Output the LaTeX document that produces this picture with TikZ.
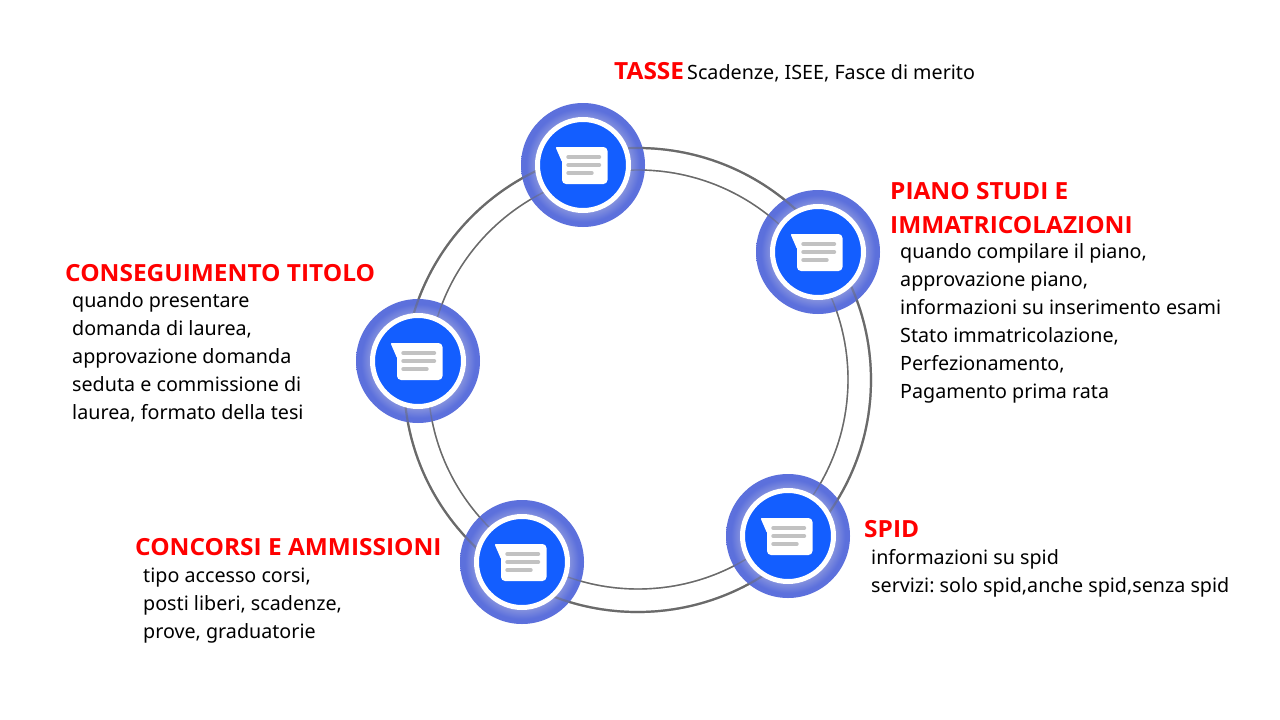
\documentclass[tikz,border=0pt]{standalone}
\usepackage{fontspec}
\setmainfont{Noto Sans}
\newfontfamily\headfont{Open Sans}[FakeStretch=1.035]
\frenchspacing
\definecolor{ringgray}{HTML}{6A6A6A}
\definecolor{bandblue}{HTML}{5C70DC}
\definecolor{bandlight}{HTML}{8592DE}
\definecolor{coreblue}{HTML}{135EFF}
\definecolor{iconbar}{HTML}{C2C2C2}
\pgfdeclareradialshading{bandshade}{\pgfpointorigin}{color(0bp)=(bandlight); color(19bp)=(bandlight); color(23bp)=(bandblue); color(50bp)=(bandblue)}
\tikzset{
  band/.style={circle,minimum size=124pt,inner sep=0pt,draw=none,shading=bandshade},
  whitering/.style={circle,minimum size=91pt,inner sep=0pt,fill=coreblue,draw=white,line width=5pt},
  outerring/.style={draw=ringgray,line width=2.2pt},
  innerring/.style={draw=ringgray,line width=1.4pt},
  headtext/.style={anchor=north west,inner sep=0pt,text=red,font=\headfont\fontsize{23.6}{34}\selectfont\bfseries,align=left},
  bodytext/.style={anchor=north west,inner sep=0pt,text=black,font=\fontsize{19.7}{28}\selectfont,align=left},
  inlinetext/.style={anchor=base west,inner sep=0pt,text=black,font=\fontsize{19.7}{28}\selectfont},
  bubble/.pic={
    \fill[white,rounded corners=4pt] (-21,-18) -- (24.5,-18) -- (24.5,19) -- (-21,19) -- (-21,-5) -- cycle;
    \fill[white,rounded corners=1pt] (-27.5,-18) -- (-15,-18) -- (-15,0) -- (-21,-3) -- cycle;
    \draw[iconbar,line width=3.4pt,line cap=round] (-15,-8) -- (16.5,-8);
    \draw[iconbar,line width=3.4pt,line cap=round] (-15,0) -- (16.5,0);
    \draw[iconbar,line width=3.4pt,line cap=round] (-15,8) -- (9,8);
  }
}
\newcommand{\ringpair}{%
  \draw[outerring] (637.5,380) ellipse[x radius=233.5pt,y radius=232pt];
  \draw[innerring] (638,379.5) ellipse[x radius=210pt,y radius=209.5pt];
}
\begin{document}
\begin{tikzpicture}[x=1pt,y=-1pt]
\useasboundingbox (0,0) rectangle (1280,720);
\fill[white] (0,0) rectangle (1280,720);
% rings below the badges
\ringpair
% bands
\foreach \n/\x/\y in {a/583/165,b/818/252,c/788/536,d/522/562,e/418/361}
  \node[band] (band\n) at (\x,\y) {};
% rings showing faintly through the bands
\begin{scope}[opacity=.5]
\ringpair
\end{scope}
% cores with icons
\foreach \n/\x/\y in {a/583/165,b/818/252,c/788/536,d/522/562,e/418/361}{
  \node[whitering] (core\n) at (\x,\y) {};
  \pic at (\x,\y) {bubble};
}
% texts
\node[anchor=base west,inner sep=0pt,text=red,font=\headfont\fontsize{23.6}{34}\selectfont\bfseries] (taxhead) at (614,79) {TASSE};
\node[inlinetext] (taxbody) at (687,79) {Scadenze, ISEE, Fasce di merito};
\node[headtext] (pianohead) at (890,175.2) {\strut PIANO STUDI E\\IMMATRICOLAZIONI};
\node[bodytext] (pianobody) at (900,238.4) {\strut quando compilare il piano,\\approvazione piano,\\informazioni su inserimento esami\\Stato immatricolazione,\\Perfezionamento,\\Pagamento prima rata};
\node[headtext] (spidhead) at (864,513.2) {\strut SPID};
\node[bodytext] (spidbody) at (871,544.4) {\strut informazioni su spid\\servizi: solo spid,anche spid,senza spid};
\node[headtext] (conchead) at (135,531.2) {\strut CONCORSI E AMMISSIONI};
\node[bodytext] (concbody) at (143,562.4) {\strut tipo accesso corsi,\\posti liberi, scadenze,\\prove, graduatorie};
\node[headtext] (conshead) at (65,257.2) {\strut CONSEGUIMENTO TITOLO};
\node[bodytext] (consbody) at (72,287.4) {\strut quando presentare\\domanda di laurea,\\approvazione domanda\\seduta e commissione di\\laurea, formato della tesi};
\end{tikzpicture}
\end{document}
